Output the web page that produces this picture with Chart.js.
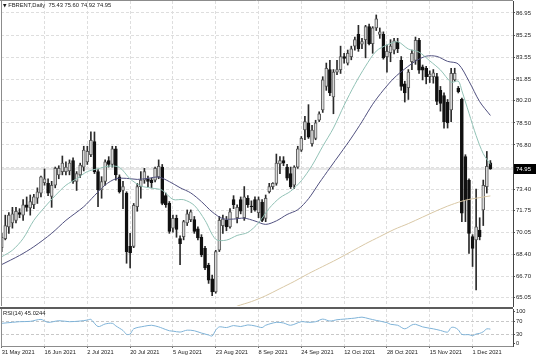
<!DOCTYPE html>
<html>
<head>
<meta charset="utf-8">
<title>FBRENT Daily</title>
<script src="https://cdn.jsdelivr.net/npm/chart.js@4.4.0/dist/chart.umd.min.js"></script>
<style>
html,body{margin:0;padding:0;background:#fff;}
#wrap{position:relative;width:536px;height:357px;overflow:hidden;background:#fff;}
canvas{position:absolute;left:0;display:block;}
#c1{top:0;}
#c2{top:309px;}
#sep{position:absolute;left:0;top:307px;width:513px;height:2px;background:#5c5c5c;}
.lbl{position:absolute;font-family:"Liberation Sans",Arial,sans-serif;color:#1a1a1a;white-space:pre;font-size:5.8px;line-height:8px;}
#hdr{left:3px;top:1px;}
#hdr .tri{font-size:4.6px;font-family:"DejaVu Sans",sans-serif;}
#rsiLbl{left:3px;top:309px;}
</style>
</head>
<body>
<div id="wrap">
<canvas id="c1" width="536" height="307"></canvas>
<div id="sep"></div>
<canvas id="c2" width="536" height="48"></canvas>
<div id="hdr" class="lbl"></div>
<div id="rsiLbl" class="lbl"></div>
</div>
<script>
// ---------------- data ----------------
const symbolName = 'FBRENT,Daily';
const dateLabels = ['31 May 2021','16 Jun 2021','2 Jul 2021','20 Jul 2021','5 Aug 2021','23 Aug 2021','8 Sep 2021','24 Sep 2021','12 Oct 2021','28 Oct 2021','15 Nov 2021','1 Dec 2021'];
const dateBarIndex = [0,12,24,36,48,60,72,84,96,108,120,132];
const priceTicks = [86.95,85.25,83.55,81.85,80.20,78.50,76.80,75.10,73.40,71.75,70.05,68.40,66.70,65.05];
const rsiTicks = [100,70,30,0];
const rsiLevels = [70,30];
const rsiName = 'RSI(14)';
const rsiLastValue = 45.0244;

const opens = [
68.9,69.6,70.5,70.8,71.0,71.6,71.4,72.2,71.95,72.2,
72.7,73.1,73.9,73.85,72.85,73.7,74.5,74.75,74.75,74.8,
75.6,74.0,74.5,75.1,75.5,76.05,77.05,74.75,73.35,74.0,
75.6,75.3,76.5,74.35,73.3,73.1,69.0,69.0,72.05,73.6,
74.1,74.2,74.1,74.1,74.35,75.1,72.9,72.3,70.4,71.15,
69.6,69.75,70.8,71.05,71.05,70.35,69.7,68.85,67.55,66.5,
65.5,68.7,70.6,71.0,70.5,72.6,71.2,72.6,71.2,72.7,
72.1,72.6,71.6,72.4,71.15,73.2,73.6,73.85,75.35,75.6,
75.1,74.6,73.7,75.1,76.4,77.95,78.5,76.9,77.3,78.7,
79.5,81.3,82.6,80.5,82.4,82.6,83.6,83.1,83.6,84.4,
85.3,84.55,84.9,85.9,84.6,85.8,85.3,85.3,83.6,83.9,
84.1,84.7,83.3,81.5,81.2,83.2,83.3,84.85,82.8,82.7,
82.05,82.05,82.05,81.0,80.6,80.1,79.5,81.8,81.15,80.3,
75.9,74.1,69.75,69.5,70.25,71.8,73.6,75.43];
const highs = [
70.0,71.4,71.6,72.0,72.0,71.9,72.6,72.8,72.95,73.0,
73.5,74.4,74.95,74.2,74.0,75.1,75.2,75.95,75.5,75.65,
75.8,74.75,75.4,76.7,76.7,77.8,77.8,74.9,74.36,75.65,
75.9,76.7,76.7,74.5,74.0,73.2,70.0,72.3,73.85,74.75,
75.0,74.4,74.25,75.1,75.65,75.3,73.1,72.45,71.4,71.4,
69.8,71.0,71.8,71.8,71.3,70.5,69.9,69.0,67.7,66.8,
68.7,71.3,71.4,71.3,71.9,72.9,72.2,72.8,73.6,72.9,
72.5,72.8,72.8,72.6,72.95,73.85,73.9,76.1,75.9,75.9,
75.3,75.1,75.2,76.7,77.45,79.0,79.9,78.3,78.7,79.35,
82.05,83.1,83.3,82.6,83.3,84.4,83.85,84.1,84.4,85.1,
86.0,85.0,86.0,86.1,85.9,86.8,85.8,85.5,84.5,84.9,
85.0,85.0,83.6,81.7,82.6,84.1,85.1,85.0,82.95,82.85,
82.5,82.6,82.3,81.3,80.8,80.3,82.7,82.7,81.3,80.4,
76.05,74.2,69.9,73.4,71.2,74.1,76.3,75.60];
const lows = [
68.6,69.5,70.0,70.4,70.8,71.2,71.0,71.7,71.4,71.9,
72.3,72.8,73.7,72.9,72.0,73.5,74.2,74.5,74.5,74.5,
73.85,73.3,74.3,74.8,75.3,75.9,74.6,72.05,72.7,73.7,
75.1,75.1,74.1,73.1,71.9,67.7,67.35,68.9,71.7,72.7,
73.85,73.6,73.5,73.95,74.2,72.2,72.0,70.0,70.1,69.7,
67.6,69.5,70.6,70.9,70.0,69.5,68.2,67.2,66.15,65.2,
65.4,68.6,70.0,70.2,70.4,71.9,70.8,71.5,71.0,72.0,
71.6,71.7,71.2,70.9,70.9,73.1,73.4,73.7,74.6,75.2,
74.1,73.45,73.45,75.0,76.3,77.2,77.3,76.7,77.2,78.6,
79.3,81.0,80.6,79.2,82.2,82.3,83.1,82.95,83.35,84.1,
84.0,84.2,83.5,84.5,83.85,85.6,85.0,83.4,82.4,83.2,
83.8,83.9,81.0,80.1,80.3,82.6,83.0,82.3,81.8,81.5,
81.6,81.55,79.9,79.4,78.1,78.1,78.6,81.7,80.8,70.9,
70.9,68.45,67.45,65.65,69.5,70.6,73.1,74.92];
const closes = [
69.7,70.6,71.4,71.5,71.7,71.45,72.2,72.0,72.45,72.8,
73.2,74.35,74.2,73.1,73.7,75.0,75.0,75.4,75.1,75.4,
74.0,74.6,75.25,76.4,76.3,77.15,74.75,73.35,73.98,75.5,
75.3,76.5,74.5,73.2,73.6,68.6,68.5,72.15,73.6,74.1,
74.75,74.0,73.9,75.0,75.15,72.3,72.2,70.15,71.15,70.3,
69.2,70.9,71.5,71.65,70.15,69.65,68.35,67.35,66.4,65.5,
68.6,71.0,71.1,70.5,71.65,72.2,72.0,71.7,72.8,72.2,
72.05,71.8,72.6,71.0,72.7,73.6,73.85,75.4,75.6,75.4,
74.25,73.6,75.1,76.5,77.3,78.6,77.4,77.95,78.5,79.2,
81.8,82.7,80.8,82.4,82.6,83.6,83.45,83.85,84.2,84.9,
84.2,84.75,85.9,84.6,85.8,86.5,85.5,83.5,84.0,84.4,
84.8,84.2,81.3,80.8,82.4,83.85,84.85,82.55,82.55,82.05,
82.25,82.35,80.15,80.0,78.6,78.5,82.3,82.3,80.9,71.55,
72.55,70.0,68.85,70.5,69.75,73.7,75.15,74.95];

// moving-average lines, read at sample bars: [bar index, value]
const maFastPoints = [[0,68.2],[3,68.7],[6,69.6],[9,71.0],[12,72.0],[15,72.9],[18,73.7],[21,74.2],[24,74.75],[27,74.97],[30,75.17],[33,75.08],[36,74.19],[39,73.65],[42,73.48],[45,73.32],[48,72.61],[51,72.59],[54,72.15],[57,71.0],[60,69.54],[63,69.48],[66,69.84],[69,70.07],[72,70.81],[75,71.93],[78,72.74],[81,73.24],[84,74.05],[87,75.22],[90,76.7],[93,78.1],[96,79.86],[99,81.46],[102,82.86],[105,84.02],[108,84.49],[111,84.74],[114,84.18],[117,83.94],[120,83.27],[123,82.57],[126,81.63],[128,81.71],[129,80.98],[131,79.24],[133,77.52],[135,76.13],[137,75.31]];
const maSlowPoints = [[0,67.6],[5,68.3],[9,68.97],[14,70.0],[18,71.0],[23,72.05],[26,72.9],[29,73.72],[32,74.2],[35,74.23],[38,74.15],[41,74.23],[44,74.33],[47,73.98],[50,73.51],[53,73.11],[56,72.44],[59,71.65],[62,71.13],[65,71.1],[68,71.17],[71,70.95],[74,70.69],[77,70.96],[80,71.45],[83,71.82],[86,72.66],[89,73.87],[92,75.03],[95,76.17],[98,77.33],[101,78.59],[104,79.93],[107,81.02],[110,81.95],[113,82.65],[116,83.24],[119,83.63],[122,83.61],[125,83.23],[128,83.03],[131,81.7],[134,80.13],[137,79.07]];
const maLongPoints = [[63,64.0],[66,64.4],[70,64.75],[74,65.2],[78,65.75],[82,66.3],[86,66.9],[90,67.45],[94,68.0],[98,68.6],[102,69.2],[106,69.75],[110,70.3],[114,70.75],[118,71.25],[122,71.75],[126,72.2],[130,72.55],[134,72.75],[137,72.88]];
const rsiPoints = [[0,63],[3,66],[5,68],[8,69],[11,75],[13,66],[16,71],[19,68],[22,70],[24,73],[25,75],[27,53],[29,61],[31,63],[32,55],[33,48],[34,41],[35,29],[36,30],[37,46],[40,54],[42,57],[44,52],[45,48],[47,40],[48,39],[50,36],[52,42],[54,40],[56,33],[58,27],[59,24],[60,42],[61,52],[63,50],[65,56],[67,53],[69,58],[71,55],[73,50],[74,57],[77,66],[79,64],[81,57],[84,68],[86,66],[88,68],[90,76],[92,70],[94,74],[96,76],[98,78],[99,79],[101,82],[103,77],[105,72],[108,65],[109,60],[111,57],[113,46],[115,58],[116,60],[118,52],[121,46],[123,41],[125,36],[126,50],[127,50],[128,43],[129,29],[131,28],[132,25],[133,30],[134,32],[135,37],[136,46],[137,45.0244]];

// ---------------- layout / style constants ----------------
const FONT = '"Liberation Sans", Arial, sans-serif';
const pxPerBar = 3.567;
const xMin = -0.2;
const xMax = xMin + 512 / pxPerBar;
const yMin = 64.412, yMax = 87.873;
const rMin = -6.9, rMax = 107.1;
const gridColor = '#dedede';
const gridDash = [3, 2];
const last = closes.length - 1;
const lastClose = closes[last];

Chart.defaults.font.family = FONT;
Chart.defaults.color = '#1a1a1a';

// header texts
document.getElementById('hdr').innerHTML = '<span class="tri">\u25BC</span> ' + symbolName + '  ' +
  [opens[last], highs[last], lows[last], closes[last]].map(v => v.toFixed(2)).join(' ');
document.getElementById('rsiLbl').textContent = rsiName + ' ' + rsiLastValue.toFixed(4);

const wickData = closes.map((c, i) => ({x: i, y: [lows[i], highs[i]]}));
const bodyData = closes.map((c, i) => ({x: i, y: [opens[i], c]}));
const bodyFill = closes.map((c, i) => c >= opens[i] ? '#d9d9d9' : '#111111');
const bodyBorder = closes.map((c, i) => c >= opens[i] ? '#5a5a5a' : '#111111');
const toXY = arr => arr.map(p => ({x: p[0], y: p[1]}));

const framePlugin = {
  id: 'frame',
  afterDraw(chart) {
    const {ctx, chartArea: a} = chart;
    ctx.save();
    ctx.strokeStyle = '#8c8c8c';
    ctx.lineWidth = 1;
    ctx.beginPath();
    ctx.moveTo(a.left + 0.5, a.bottom);
    ctx.lineTo(a.left + 0.5, a.top - 1);
    ctx.stroke();
    if (chart.canvas.id === 'c1') {
      ctx.beginPath();
      ctx.moveTo(0, 0.5);
      ctx.lineTo(a.right, 0.5);
      ctx.stroke();
    }
    ctx.restore();
  }
};

const priceBoxPlugin = {
  id: 'priceBox',
  afterDraw(chart) {
    const {ctx, chartArea: a, scales} = chart;
    const py = Math.round(scales.y.getPixelForValue(lastClose));
    ctx.save();
    ctx.fillStyle = '#000';
    ctx.fillRect(a.right + 1, py - 5, 22, 10);
    ctx.fillStyle = '#fff';
    ctx.font = '6px ' + FONT;
    ctx.textBaseline = 'middle';
    ctx.textAlign = 'left';
    ctx.fillText(lastClose.toFixed(2), a.right + 3, py + 0.5);
    ctx.restore();
  }
};

const fixY = s => { s.width = 23; s.paddingTop = 0; s.paddingBottom = 0; };

new Chart(document.getElementById('c1'), {
  type: 'bar',
  data: {
    datasets: [
      {type: 'line', label: 'Bid', data: [{x: xMin - 2, y: lastClose}, {x: xMax + 2, y: lastClose}],
       borderColor: '#cfcfcf', borderWidth: 1, pointRadius: 0, order: 6},
      {label: 'wick', data: wickData, backgroundColor: '#2a2a2a', borderWidth: 0,
       barThickness: 1, grouped: false, order: 5},
      {label: 'body', data: bodyData, backgroundColor: bodyFill, borderColor: bodyBorder,
       borderWidth: 1, borderSkipped: false, barThickness: 3, grouped: false, order: 4},
      {type: 'line', label: 'MA long', data: toXY(maLongPoints), borderColor: '#d9c8a6',
       borderWidth: 1, pointRadius: 0, tension: 0.3, order: 3},
      {type: 'line', label: 'MA slow', data: toXY(maSlowPoints), borderColor: '#50507f',
       borderWidth: 1, pointRadius: 0, tension: 0.3, order: 2},
      {type: 'line', label: 'MA fast', data: toXY(maFastPoints), borderColor: '#92c2b6',
       borderWidth: 1, pointRadius: 0, tension: 0.3, order: 1}
    ]
  },
  options: {
    responsive: false, animation: false, devicePixelRatio: 1, events: [],
    layout: {padding: {left: 1, top: 1, right: 0, bottom: 1}},
    plugins: {legend: {display: false}, tooltip: {enabled: false}, title: {display: false}},
    scales: {
      x: {
        type: 'linear', min: xMin, max: xMax, offset: false,
        grid: {offset: false, color: gridColor, drawTicks: false},
        border: {display: false, dash: gridDash},
        ticks: {display: false},
        afterBuildTicks: s => { s.ticks = dateBarIndex.map(v => ({value: v})); },
        afterFit: s => { s.height = 0; s.paddingLeft = 0; s.paddingRight = 0; }
      },
      y: {
        type: 'linear', position: 'right', min: yMin, max: yMax, beginAtZero: false,
        grid: {color: gridColor, tickColor: '#555', tickLength: 2},
        border: {display: true, color: '#444', dash: gridDash},
        ticks: {font: {size: 6, family: FONT}, color: '#1a1a1a', padding: 1, autoSkip: false,
                callback: v => Number(v).toFixed(2)},
        afterBuildTicks: s => { s.ticks = priceTicks.map(v => ({value: v})); },
        afterFit: fixY
      }
    }
  },
  plugins: [framePlugin, priceBoxPlugin]
});

new Chart(document.getElementById('c2'), {
  type: 'line',
  data: {
    datasets: [
      {label: rsiName, data: toXY(rsiPoints), borderColor: '#7fb3d8', borderWidth: 1,
       pointRadius: 0, tension: 0.3}
    ]
  },
  options: {
    responsive: false, animation: false, devicePixelRatio: 1, events: [],
    layout: {padding: {left: 1, top: 0, right: 0, bottom: 0}},
    plugins: {legend: {display: false}, tooltip: {enabled: false}, title: {display: false}},
    scales: {
      x: {
        type: 'linear', min: xMin, max: xMax, offset: false,
        grid: {offset: false, color: gridColor, tickColor: '#666', tickLength: 2},
        border: {display: true, color: '#8c8c8c', dash: gridDash},
        ticks: {font: {size: 5.7, family: FONT}, color: '#1a1a1a', padding: 1, autoSkip: false,
                maxRotation: 0, minRotation: 0, align: 'start',
                callback: (v, i) => dateLabels[i]},
        afterBuildTicks: s => { s.ticks = dateBarIndex.map(v => ({value: v})); },
        afterFit: s => { s.height = 11; s.paddingLeft = 0; s.paddingRight = 0; }
      },
      y: {
        type: 'linear', position: 'right', min: rMin, max: rMax,
        grid: {color: c => (c.tick && rsiLevels.includes(c.tick.value)) ? '#c8c8c8' : 'rgba(0,0,0,0)',
               tickColor: '#555', tickLength: 2},
        border: {display: true, color: '#444', dash: gridDash},
        ticks: {font: {size: 5.7, family: FONT}, color: '#1a1a1a', padding: 1, autoSkip: false,
                callback: v => String(v)},
        afterBuildTicks: s => { s.ticks = rsiTicks.map(v => ({value: v})); },
        afterFit: fixY
      }
    }
  },
  plugins: [framePlugin]
});
</script>
</body>
</html>
